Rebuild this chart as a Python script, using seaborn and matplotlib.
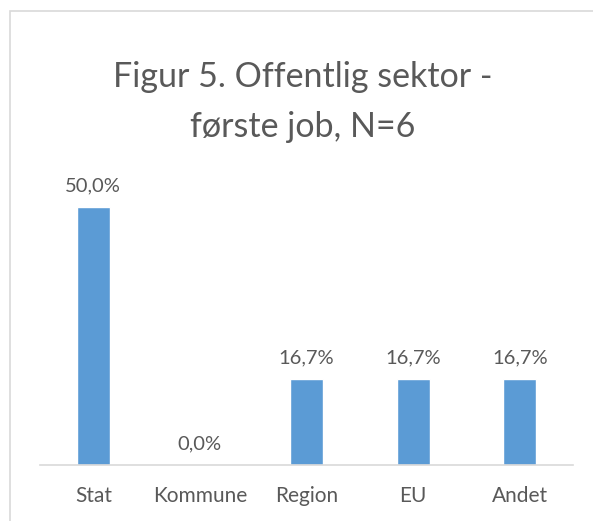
import matplotlib
matplotlib.use("Agg")
import matplotlib.pyplot as plt
import matplotlib.patches as mpatches
import seaborn as sns
import pandas as pd

# Data
categories = ["Stat", "Kommune", "Region", "EU", "Andet"]
shares = [0.50, 0.0, 0.167, 0.167, 0.167]
labels = ["50,0%", "0,0%", "16,7%", "16,7%", "16,7%"]

df = pd.DataFrame({"kategori": categories, "andel": shares})

sns.set_style("white")
plt.rcParams["font.family"] = ["Lato", "DejaVu Sans"]

grey = "#595959"
fig = plt.figure(figsize=(5.93, 5.21), dpi=100)
ax = fig.add_axes([40 / 593, 56 / 521, 533 / 593, 310 / 521])

sns.barplot(data=df, x="kategori", y="andel", color="#5B9BD5", width=0.31,
            saturation=1, ax=ax)

ax.set_ylim(0, 0.6)
ax.set_xlim(-0.5, 4.5)
ax.set_xlabel("")
ax.set_ylabel("")
ax.set_yticks([])
ax.tick_params(axis="x", length=0, labelsize=15, labelcolor=grey, pad=15)
for s in ["top", "right", "left"]:
    ax.spines[s].set_visible(False)
ax.spines["bottom"].set_color("#D9D9D9")
ax.spines["bottom"].set_linewidth(1.2)

# Data labels
for i, (v, lab) in enumerate(zip(shares, labels)):
    ax.annotate(lab, (i, v), xytext=(0, 9), textcoords="offset points",
                ha="center", va="bottom", fontsize=14.5, color=grey)

fig.text(0.51, 1 - 77 / 521, "Figur 5. Offentlig sektor -", ha="center",
         va="center", fontsize=24.5, color=grey)
fig.text(0.51, 1 - 127 / 521, "første job, N=6", ha="center",
         va="center", fontsize=24.5, color=grey)

# Chart border
fig.patches.append(mpatches.Rectangle((10 / 593, -0.05), 1.2, 1 - 11 / 521 + 0.05,
                                      transform=fig.transFigure, fill=False,
                                      edgecolor="#D9D9D9", linewidth=1.2))

fig.savefig("out.png", dpi=100)
